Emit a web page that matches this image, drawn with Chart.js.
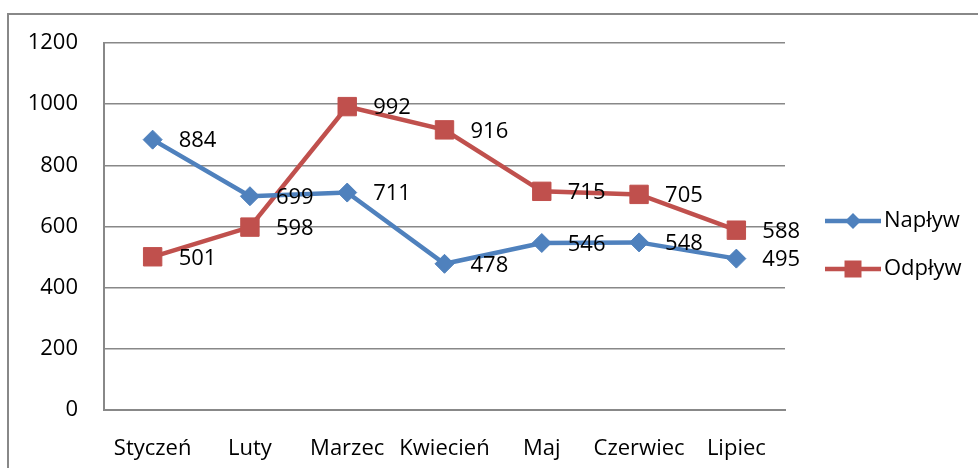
<!DOCTYPE html>
<html>
<head>
<meta charset="utf-8">
<script src="https://cdn.jsdelivr.net/npm/chart.js@4.4.1/dist/chart.umd.min.js"></script>
<style>
  html, body { margin: 0; padding: 0; background: #fff; }
  canvas { display: block; }
</style>
</head>
<body>
<canvas id="flowChart" width="978" height="468"></canvas>
<script>
// dane
const months = ['Styczeń', 'Luty', 'Marzec', 'Kwiecień', 'Maj', 'Czerwiec', 'Lipiec'];
const naplyw = [884, 699, 711, 478, 546, 548, 495];
const odplyw = [501, 598, 992, 916, 715, 705, 588];
const yTicks = [0, 200, 400, 600, 800, 1000, 1200];

const BLUE = '#4F81BD';
const RED = '#C0504D';
const GRID = '#888888';
const FONT = '"Open Sans", "Noto Sans", sans-serif';
const FONT_SIZE = 22;

Chart.defaults.font.family = FONT;
Chart.defaults.font.size = FONT_SIZE;
Chart.defaults.color = '#000';

// ikonka legendy: linia z markerem
const legendIcon = (color, marker) => {
    const c = document.createElement('canvas');
    c.width = 78;
    c.height = 22;
    const g = c.getContext('2d');
    g.strokeStyle = color;
    g.fillStyle = color;
    g.lineWidth = 4.5;
    g.beginPath();
    g.moveTo(22, 11);
    g.lineTo(78, 11);
    g.stroke();
    g.beginPath();
    if (marker === 'diamond') {
        g.moveTo(50 - 8, 11);
        g.lineTo(50, 11 - 8);
        g.lineTo(50 + 8, 11);
        g.lineTo(50, 11 + 8);
        g.closePath();
    } else {
        g.rect(50 - 8.5, 11 - 8.5, 17, 17);
    }
    g.fill();
    return c;
};
const icons = [legendIcon(BLUE, 'diamond'), legendIcon(RED, 'square')];

// ramka wykresu
const frame = {
    id: 'frame',
    beforeDraw(chart) {
        const ctx = chart.ctx;
        ctx.save();
        ctx.fillStyle = '#fff';
        ctx.fillRect(0, 0, chart.width, chart.height);
        ctx.strokeStyle = GRID;
        ctx.lineWidth = 2;
        ctx.beginPath();
        ctx.moveTo(8, chart.height);
        ctx.lineTo(8, 14);
        ctx.lineTo(chart.width, 14);
        ctx.stroke();
        ctx.restore();
    }
};

// etykiety wartości po prawej stronie punktów
const valueLabels = {
    id: 'valueLabels',
    afterDatasetsDraw(chart) {
        const ctx = chart.ctx;
        ctx.save();
        ctx.font = FONT_SIZE + 'px ' + FONT;
        ctx.fillStyle = '#000';
        ctx.textAlign = 'left';
        ctx.textBaseline = 'middle';
        chart.data.datasets.forEach((ds, i) => {
            chart.getDatasetMeta(i).data.forEach((pt, j) => {
                ctx.fillText(String(ds.data[j]), pt.x + 26, pt.y + 1.5);
            });
        });
        ctx.restore();
    }
};

// szerokość legendy -> padding z prawej, żeby obszar wykresu kończył się na 785
const measure = document.createElement('canvas').getContext('2d');
measure.font = FONT_SIZE + 'px ' + FONT;
const maxTextW = Math.max(...['Napływ', 'Odpływ'].map(t => measure.measureText(t).width));
const legendPad = 26;
const pointW = 62;
const legendW = legendPad + pointW + FONT_SIZE / 2 + maxTextW + 10;
const rightPad = Math.max(0, 978 - 785 - legendW);

new Chart(document.getElementById('flowChart'), {
    type: 'line',
    data: {
        labels: months,
        datasets: [{
            label: 'Napływ',
            data: naplyw,
            borderColor: BLUE,
            backgroundColor: BLUE,
            borderWidth: 4.5,
            pointStyle: 'rectRot',
            pointRadius: 9.5,
            pointBorderWidth: 1,
            tension: 0
        }, {
            label: 'Odpływ',
            data: odplyw,
            borderColor: RED,
            backgroundColor: RED,
            borderWidth: 4.5,
            pointStyle: 'rect',
            pointRadius: 13,
            pointBorderWidth: 1,
            tension: 0
        }]
    },
    options: {
        responsive: false,
        devicePixelRatio: 1,
        animation: false,
        layout: { padding: { top: 43, left: 0, right: rightPad, bottom: 0 } },
        scales: {
            x: {
                offset: true,
                grid: { display: false },
                border: { display: true, color: GRID, width: 2 },
                ticks: { padding: 18, maxRotation: 0, autoSkip: false },
                afterFit: (scale) => { scale.height = 58; }
            },
            y: {
                min: yTicks[0],
                max: yTicks[yTicks.length - 1],
                ticks: {
                    stepSize: yTicks[1] - yTicks[0],
                    padding: 26,
                    callback: (v) => String(v)
                },
                grid: { color: GRID, lineWidth: 1.5, drawTicks: false },
                border: { display: true, color: GRID, width: 2 },
                afterFit: (scale) => { scale.width = 104; }
            }
        },
        plugins: {
            legend: {
                position: 'right',
                fullSize: false,
                // pusty tytuł tylko po to, żeby zsunąć pozycje legendy w dół
                title: { display: true, text: ' ', font: { size: 10 }, padding: 12.5 },
                labels: {
                    usePointStyle: true,
                    pointStyleWidth: pointW,
                    padding: legendPad,
                    color: '#000',
                    generateLabels: (chart) => {
                        const items = Chart.defaults.plugins.legend.labels.generateLabels(chart);
                        items.forEach((it, i) => { it.pointStyle = icons[i]; });
                        return items;
                    }
                }
            },
            tooltip: { enabled: false }
        }
    },
    plugins: [frame, valueLabels]
});
</script>
</body>
</html>
